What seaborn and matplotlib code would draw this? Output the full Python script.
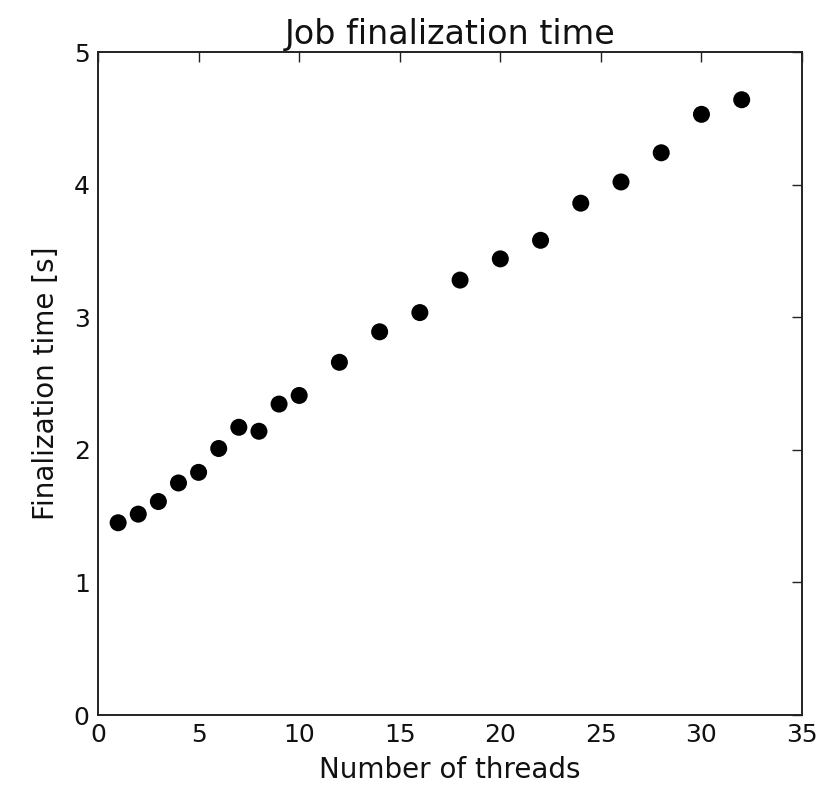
import matplotlib
matplotlib.use("Agg")
import matplotlib.pyplot as plt
import seaborn as sns
import pandas as pd

# Measured finalization time per thread count
threads = [1, 2, 3, 4, 5, 6, 7, 8, 9, 10, 12, 14, 16, 18, 20, 22, 24, 26, 28, 30, 32]
final_time = [1.45, 1.515, 1.61, 1.75, 1.83, 2.01, 2.17, 2.14, 2.345, 2.41,
              2.66, 2.89, 3.035, 3.28, 3.44, 3.58, 3.86, 4.02, 4.24, 4.53, 4.64]

x_ticks = [0, 5, 10, 15, 20, 25, 30, 35]
y_ticks = [0, 1, 2, 3, 4, 5]

df = pd.DataFrame({"threads": threads, "time": final_time})

sns.set_style("white")
plt.rcParams["font.family"] = ["DejaVu Sans"]
plt.rcParams["text.color"] = "#111111"
plt.rcParams["axes.labelcolor"] = "#111111"

fig = plt.figure(figsize=(8.21, 7.88), dpi=100)
ax = fig.add_axes([0.1194, 0.0926, 0.8575, 0.8414])

sns.scatterplot(data=df, x="threads", y="time", ax=ax, color="black",
                s=150, edgecolor="none", linewidth=0)

ax.set_xlim(0, 35)
ax.set_ylim(0, 5)
ax.set_xticks(x_ticks)
ax.set_yticks(y_ticks)
ax.tick_params(direction="in", length=7, width=1, top=True, right=True,
               labelsize=18, colors="#222222", labelcolor="#111111", pad=6)
for sp in ax.spines.values():
    sp.set_color("#222222")
    sp.set_linewidth(1.4)

ax.set_title("Job finalization time", fontsize=24, pad=6)
ax.set_xlabel("Number of threads", fontsize=20, labelpad=6)
ax.set_ylabel("Finalization time [s]", fontsize=20, labelpad=10)

fig.savefig("out.png", dpi=100, facecolor="white")
